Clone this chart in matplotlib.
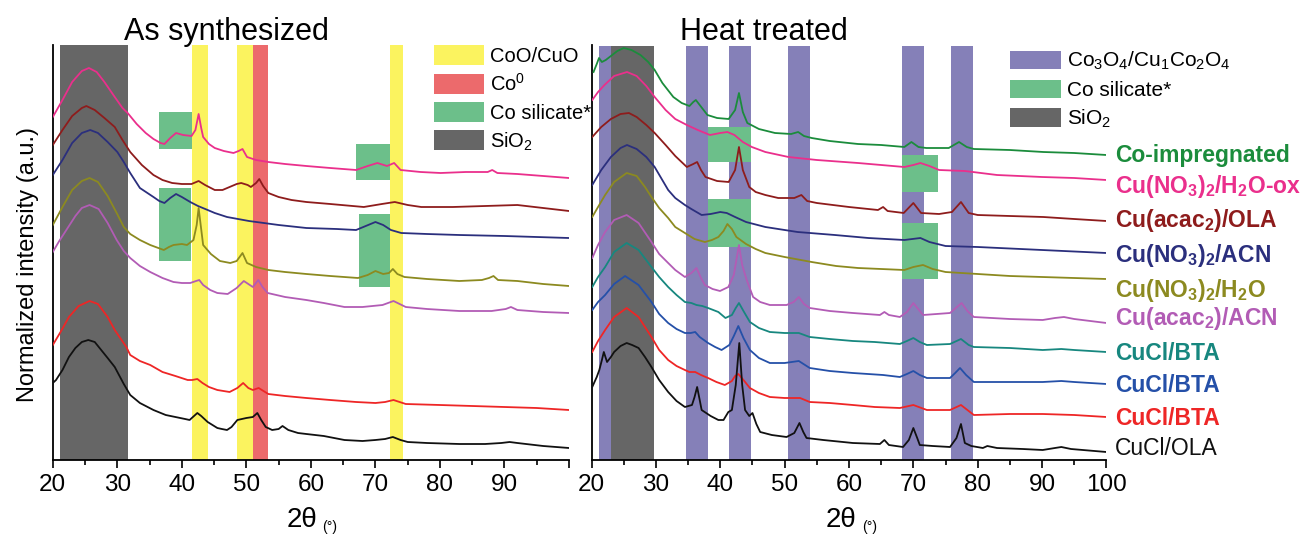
import matplotlib
matplotlib.use("Agg")
import matplotlib.pyplot as plt
from matplotlib.patches import Patch

plt.rcParams['font.family'] = ['Liberation Sans', 'DejaVu Sans']
plt.rcParams['mathtext.default'] = 'regular'

# ---- data: (2theta, normalized intensity + offset) ----
# as synthesized
as_pink = [(20.0, 343), (21.5, 360), (23, 378), (24.5, 389), (25.6, 392), (26.8, 388), (28, 378), (29.6, 363),
           (30.8, 352), (31.6, 347), (33, 336), (34.4, 327), (35.6, 321), (36.7, 317), (37.3, 316), (38.2, 322),
           (39.1, 327), (40.2, 325), (41.5, 324), (42.1, 330), (42.6, 346), (43.0, 332), (43.3, 323), (44.2, 316),
           (45.1, 312), (46.5, 309), (48.0, 307), (48.8, 309), (49.4, 311), (50.1, 303), (51.5, 300), (53.4, 298),
           (56, 296), (59.3, 294), (63, 292), (67.0, 290), (68.8, 294), (70.3, 297), (71.8, 294), (72.9, 297),
           (73.9, 290), (77, 288), (80.1, 287), (84, 288), (87.4, 288), (88.1, 290), (88.9, 287), (92, 286),
           (96, 284), (100, 282)]
as_darkred = [(20, 315), (21.5, 330), (23, 344), (24.5, 352), (25.2, 354), (26.5, 350), (28, 342), (29.6, 333),
              (30.8, 320), (32, 308), (33.8, 295), (35.6, 285), (37, 280), (38.5, 277), (40, 276), (41.5, 276),
              (42.6, 279), (43.6, 275), (45.1, 270), (46.3, 270), (47.4, 273), (48.5, 276), (49.2, 277),
              (50.2, 275), (50.7, 273), (51.5, 277), (52.0, 281), (52.6, 274), (53.4, 267), (55, 263), (57, 260),
              (59.3, 258), (63, 256), (68.2, 253), (71, 256), (73, 258), (75, 255), (77.1, 253), (82, 253),
              (87, 254), (92, 255), (96, 252), (100, 249)]
as_navy = [(20, 285), (21.5, 300), (23, 317), (24.5, 327), (25.8, 330), (27, 327), (28.5, 318), (30, 308),
           (31, 298), (32, 287), (33.5, 272), (35.6, 263), (36.5, 259), (37.3, 257), (38.2, 262), (39.1, 266),
           (40, 263), (41.3, 258), (42.5, 254), (44, 250), (45.1, 247), (47, 243), (50.4, 239), (55, 235),
           (59.3, 232), (64, 231), (67, 230), (68.5, 234), (70, 238), (71.2, 235), (72.4, 230), (74, 227),
           (78, 226), (83, 225), (90, 224), (95, 223), (100, 222)]
as_olive = [(20, 235), (21.5, 253), (23, 270), (24.5, 279), (25.7, 282), (27, 278), (28.5, 264), (29.9, 247),
            (31, 233), (32, 226), (33.5, 220), (35.1, 215), (37.2, 210), (38, 213), (38.7, 215), (40, 216),
            (40.8, 215), (41.8, 220), (42.3, 235), (42.6, 252), (42.9, 236), (43.3, 215), (44.5, 206), (45.9, 199),
            (47.5, 197), (48.5, 199), (49.4, 207), (50.1, 197), (51.5, 193), (53.4, 190), (56, 188), (59.3, 186),
            (63, 184), (67.3, 182), (68.8, 185), (70, 189), (71.2, 186), (72.1, 187), (72.7, 191), (73.4, 186),
            (74.5, 183), (78, 181), (83, 179), (86.5, 180), (87.6, 182), (88.3, 184), (89, 180), (92, 179),
            (96, 176), (100, 174)]
as_orchid = [(20, 208), (21, 219), (22.1, 230), (23.5, 244), (24.5, 252), (25.7, 255), (27.1, 251), (28.5, 237),
             (29.9, 220), (31, 209), (32, 202), (33.5, 194), (35.1, 188), (37, 182), (38.7, 178), (40, 177),
             (41.3, 177), (42.2, 179), (42.7, 180), (43.3, 175), (44.4, 170), (45.5, 167), (47.1, 166),
             (48.5, 172), (49.6, 179), (50.3, 176), (51, 173), (51.85, 180), (52.5, 173), (53.3, 167), (56, 163),
             (59.3, 160), (62, 157), (65.2, 153), (68, 153), (71.1, 155), (72.8, 159), (74.7, 153), (78, 151),
             (83, 149), (88, 149), (90.2, 151), (91, 153), (92, 150), (96, 148), (100, 147)]
as_red = [(20, 115), (21.2, 128), (22.5, 143), (24, 154), (25.7, 159), (27, 156), (28.5, 143), (29.6, 130),
          (31.4, 113), (32, 105), (33.5, 99), (35.1, 95), (37, 88), (39, 84), (40.9, 80), (41.6, 80), (42.4, 81),
          (43.2, 77), (44.2, 73), (45.5, 70), (47.4, 68), (48.6, 72), (49.5, 77), (50.3, 72), (51, 70),
          (51.9, 72), (53.4, 66), (56, 64), (59.3, 62), (63, 60), (67, 58), (70, 57), (71.5, 58), (72.8, 60),
          (74.7, 56), (80, 55), (85, 54), (90, 53), (95, 52), (100, 50)]
as_black = [(20, 77), (20.5, 80), (21.5, 90), (22.5, 103), (23.5, 112), (24.5, 118), (25.5, 120), (26.5, 118),
            (27.5, 110), (28.5, 102), (29.6, 93), (31, 76), (32, 65), (33.5, 57), (35.6, 50), (37.5, 45), (39, 43),
            (40.5, 41), (41.2, 40), (42.4, 47), (43, 44), (44, 38), (45.5, 32), (46.2, 31), (47, 30), (47.7, 33),
            (48.6, 40), (50, 42), (51, 43), (51.7, 47), (52.3, 40), (53, 33), (54, 30), (55, 31), (55.6, 34),
            (56.5, 30), (58, 27), (59.3, 26), (62, 24), (65.2, 20), (68, 19), (70, 20), (71.5, 21), (72.7, 23),
            (73.9, 20), (75, 18), (78, 17), (83, 16), (87, 16), (89.5, 17), (90.8, 18), (92, 17), (96, 14),
            (100, 12)]

# heat treated
ht_green = [(20.3, 388), (20.8, 396), (21.15, 402), (21.6, 398), (22.2, 400), (23, 404), (24, 409), (25, 412),
            (26.2, 410), (27.6, 405), (28.8, 398), (29.8, 390), (31, 377), (32.7, 363), (34, 357), (35.2, 354),
            (35.8, 358), (36.2, 360), (36.8, 355), (38, 345), (39.5, 342), (41.3, 341), (42.3, 350), (42.9, 367),
            (43.5, 348), (44.2, 337), (46, 331), (48.5, 327), (51, 326), (52.1, 328), (53, 324), (54.2, 322),
            (57, 319), (61.4, 316), (65, 315), (68.6, 313), (69.7, 318), (70.8, 313), (72, 312), (75.5, 312),
            (77.1, 318), (78.3, 313), (79.4, 311), (85, 310), (90.2, 308), (95, 307), (100, 305)]
ht_pink = [(20.1, 360), (21, 368), (22, 375), (23.5, 384), (25.5, 388), (27, 384), (28.5, 374), (29.8, 363),
           (31.5, 350), (33, 341), (34.8, 335), (36.5, 330), (38.4, 325), (40, 327), (41.1, 328), (42.2, 325),
           (43.5, 318), (44.9, 313), (47, 308), (50.6, 303), (55, 300), (61.4, 297), (65, 295), (68.6, 293),
           (70, 295), (71.1, 297), (72.5, 294), (74, 290), (78, 289), (83, 285), (90, 283), (95, 282), (100, 280)]
ht_darkred = [(20.1, 323), (21.5, 333), (23, 341), (24.5, 346), (25.8, 347), (27, 343), (28.5, 335), (29.8, 327),
              (31.5, 315), (33, 304), (34.8, 293), (35.8, 296), (36.4, 298), (37.0, 290), (37.7, 283), (39.5, 279),
              (41.3, 278), (42.3, 290), (42.9, 313), (43.5, 290), (44.5, 273), (45.5, 268), (47, 265), (49, 262),
              (51.5, 262), (52.6, 265), (53.5, 259), (55, 257), (60, 253), (64.5, 250), (65.3, 253), (66, 249),
              (68.5, 247), (70, 257), (71.2, 247), (74, 246), (76, 248), (77.4, 258), (78.6, 247), (80, 245),
              (85, 244), (90.2, 243), (95, 241), (100, 239)]
ht_navy = [(20.1, 275), (21.5, 290), (23, 303), (24.5, 312), (25.5, 315), (27, 311), (28.5, 303), (29.8, 293),
           (31.9, 270), (33, 262), (34.5, 255), (35.5, 251), (37.1, 245), (38.5, 246), (40, 248), (41, 247),
           (42.3, 243), (44, 238), (47, 233), (52, 228), (57.8, 225), (63, 222), (68.6, 220), (71.1, 222),
           (72.5, 218), (75, 214), (80, 213), (90, 210), (100, 207)]
ht_olive = [(20.1, 243), (21, 253), (22.1, 265), (23.5, 278), (25.45, 287), (27, 284), (28.3, 273), (29.3, 263),
            (30.5, 252), (31.9, 242), (33, 233), (34.5, 227), (36, 221), (37.6, 218), (38.7, 220), (39.7, 223),
            (40.5, 229), (41.1, 236), (41.8, 231), (42.5, 223), (44, 216), (45.5, 211), (47, 207), (50, 203),
            (54.2, 198), (58, 194), (61.4, 192), (65, 191), (68.6, 190), (70, 193), (71.5, 195), (73, 191),
            (75, 188), (80, 186), (85, 184), (90, 183), (95, 182), (100, 181)]
ht_orchid = [(20.1, 202), (21, 215), (22.1, 228), (23.5, 240), (25.45, 245), (27.3, 237), (29.3, 218), (30.5, 206),
             (31.9, 197), (33, 190), (34.5, 183), (35.5, 187), (36.3, 192), (37, 182), (37.6, 175), (38.8, 171),
             (39.95, 169), (41.25, 173), (42.1, 185), (42.5, 200), (42.9, 215), (43.4, 195), (44.1, 180),
             (45.1, 163), (46.2, 158), (47.7, 155), (50.3, 155), (51.4, 158), (52.2, 163), (53.0, 156), (53.9, 152),
             (57, 149), (60.6, 147), (64.8, 145), (65.5, 148), (66.2, 145), (67.9, 143), (69, 148), (70, 157),
             (71, 149), (71.5, 145), (75.7, 147), (76.6, 152), (77.5, 157), (78.4, 149), (79.4, 143), (85, 141),
             (90.1, 140), (92, 142), (93.4, 143), (95, 141), (100, 137)]
ht_teal = [(20.1, 173), (21, 183), (22.1, 193), (23.5, 208), (25.45, 217), (27.3, 210), (29.3, 193), (30.5, 183),
           (31.9, 173), (33.2, 165), (34.5, 158), (35.5, 157), (36.3, 155), (37.2, 154), (38.1, 152), (39.7, 148),
           (40.8, 142), (41.8, 145), (42.4, 152), (42.9, 157), (43.6, 149), (44.6, 138), (46, 132), (47.7, 128),
           (50, 127), (52.2, 127), (53.9, 123), (57, 121), (60.6, 119), (64, 118), (67.9, 116), (69, 119),
           (70, 122), (71, 118), (72.1, 115), (75.7, 116), (77.4, 121), (78.6, 115), (79.4, 113), (85, 112),
           (90.1, 110), (93, 111), (95, 110), (100, 108)]
ht_blue = [(20.1, 150), (21, 158), (22.1, 165), (23.5, 176), (25.2, 184), (27.3, 175), (29.3, 158), (30.5, 146),
           (31.9, 137), (33.2, 131), (34.5, 127), (35.4, 127), (36.1, 128), (36.8, 123), (38.1, 117), (39.2, 113),
           (40.2, 110), (41.4, 115), (42.1, 124), (42.8, 134), (43.6, 122), (44.6, 110), (46, 102), (47.7, 97),
           (50, 97), (52.2, 99), (53.9, 92), (57, 89), (60.6, 87), (65.3, 85), (67.9, 83), (69, 86), (70, 89),
           (71, 85), (72.1, 82), (75.7, 82), (76.5, 87), (77.25, 92), (78.2, 85), (79.4, 78), (85, 78),
           (90.1, 78), (93, 79), (95, 78), (100, 76)]
ht_red = [(20.1, 108), (21, 119), (22.1, 130), (23.5, 143), (25.45, 152), (27.3, 143), (29.3, 123), (30.5, 110),
          (31.9, 100), (33.2, 94), (34.5, 90), (35.2, 88), (36.1, 88), (37, 85), (38.1, 82), (39.4, 78),
          (40.7, 75), (41.8, 79), (42.3, 84), (42.8, 86), (43.6, 80), (44.6, 72), (46, 67), (47.7, 63), (50, 62),
          (52.4, 62), (53.9, 58), (57, 57), (60.6, 55), (64, 53), (67.9, 52), (70, 55), (72.1, 50), (75.7, 50),
          (77.4, 55), (79.4, 45), (85, 46), (90.1, 46), (95, 45), (100, 43)]
ht_black = [(20.1, 73), (20.8, 83), (21.2, 90), (21.6, 100), (21.9, 108), (22.4, 98), (23, 103), (23.5, 108),
            (24.5, 114), (25.45, 117), (26.3, 115), (27.3, 112), (28.3, 103), (29.3, 93), (30.5, 80), (31.9, 68),
            (33.2, 59), (34.5, 53), (35.6, 55), (36.0, 63), (36.4, 73), (36.8, 60), (37.1, 50), (38.5, 44),
            (39.7, 40), (40.5, 40), (41.25, 48), (41.8, 50), (42.4, 75), (42.95, 117), (43.4, 75), (43.85, 50),
            (44.5, 44), (45.0, 47), (45.6, 36), (46.2, 28), (48, 25), (50.3, 23), (51.5, 27), (52.3, 37),
            (52.9, 28), (53.4, 22), (56, 20), (60.6, 17), (64.8, 16), (65.5, 20), (66.2, 15), (68.4, 13),
            (69.3, 20), (70, 32), (70.6, 22), (71, 15), (73, 14), (75.7, 13), (76.7, 22), (77.4, 36), (78.0, 17),
            (79, 14), (80.8, 12), (81.5, 14), (83, 12), (87, 11), (90.1, 10), (92, 12), (93, 13), (94.5, 11),
            (100, 8)]

as_curves = [as_pink, as_darkred, as_navy, as_olive, as_orchid, as_red, as_black]
ht_curves = [ht_green, ht_pink, ht_darkred, ht_navy, ht_olive, ht_orchid, ht_teal, ht_blue, ht_red, ht_black]
ht_names = ['Co-impregnated', 'Cu(NO$_3$)$_2$/H$_2$O-ox', 'Cu(acac$_2$)/OLA', 'Cu(NO$_3$)$_2$/ACN',
            'Cu(NO$_3$)$_2$/H$_2$O', 'Cu(acac$_2$)/ACN', 'CuCl/BTA', 'CuCl/BTA', 'CuCl/BTA', 'CuCl/OLA']

# reference bands (2theta ranges)
sio2_as = (21.1, 31.6)
cuo_as = [(41.6, 44.0), (48.6, 51.0), (72.3, 74.2)]
co0_as = [(51.0, 53.4)]
silicate_as = [(36.5, 41.5, 311, 348), (67.0, 72.3, 280, 316), (36.5, 41.4, 199, 272), (67.4, 72.3, 173, 246)]
sio2_ht = (23.0, 29.7)
spinel_ht = [(21.15, 23.0), (34.7, 38.1), (41.4, 44.8), (50.5, 53.9), (68.3, 71.7), (75.85, 79.3)]
silicate_ht = [(38.05, 44.8, 298, 333), (68.3, 73.8, 268, 305), (38.05, 44.8, 213, 261), (68.3, 73.8, 181, 237)]

# ---- style ----
as_colors = ['#ea2f8c', '#8e1c1c', '#2b2f7d', '#8c8a20', '#b25cb5', '#ee2626', '#111111']
ht_colors = ['#1b8c3c', '#ea2f8c', '#8e1c1c', '#2b2f7d', '#8c8a20', '#b25cb5', '#17877f', '#2550a8',
             '#ee2626', '#111111']
label_y = [298, 267, 233, 198, 163, 135, 100, 68, 35, 5]
c_gray, c_yel, c_redb, c_green, c_purp = '#666666', '#fbf35f', '#ec6a6c', '#6cbf8a', '#8580b8'

W, H = 1306, 534
fig = plt.figure(figsize=(W / 100, H / 100), dpi=100)
ax_l = fig.add_axes([52.8 / W, 74 / H, (569 - 52.8) / W, 415 / H])
ax_r = fig.add_axes([591.6 / W, 74 / H, 514.8 / W, 415 / H])

for ax in (ax_l, ax_r):
    ax.set_xlim(20, 100)
    ax.set_ylim(0, 415)
    ax.spines['top'].set_visible(False)
    ax.spines['right'].set_visible(False)
    ax.spines['left'].set_linewidth(1.3)
    ax.spines['bottom'].set_linewidth(1.3)
    ax.tick_params(axis='y', left=False, labelleft=False)
    ax.set_xticks(range(20, 101, 10))
    ax.set_xticks(range(25, 100, 10), minor=True)
    ax.tick_params(axis='x', which='major', length=6, width=1.2, labelsize=17.5, pad=4)
    ax.tick_params(axis='x', which='minor', length=3.5, width=1.2)

ax_l.set_xticklabels([str(v) for v in range(20, 100, 10)] + [''])

# left panel bands
ax_l.axvspan(*sio2_as, color=c_gray, lw=0, zorder=0)
for lo, hi in cuo_as:
    ax_l.axvspan(lo, hi, color=c_yel, lw=0, zorder=0)
for lo, hi in co0_as:
    ax_l.axvspan(lo, hi, color=c_redb, lw=0, zorder=0)
for x0, x1, y0, y1 in silicate_as:
    ax_l.fill_between([x0, x1], y0, y1, color=c_green, lw=0, zorder=1)

# right panel bands
for lo, hi in spinel_ht:
    ax_r.axvspan(lo, hi, ymax=414 / 415, color=c_purp, lw=0, zorder=0)
ax_r.axvspan(*sio2_ht, ymax=414 / 415, color=c_gray, lw=0, zorder=0.5)
for x0, x1, y0, y1 in silicate_ht:
    ax_r.fill_between([x0, x1], y0, y1, color=c_green, lw=0, zorder=1)

for cur, col in zip(as_curves, as_colors):
    x, y = zip(*cur)
    ax_l.plot(x, y, color=col, lw=1.3, zorder=3)
for cur, col in zip(ht_curves, ht_colors):
    x, y = zip(*cur)
    ax_r.plot(x, y, color=col, lw=1.3, zorder=3)

for name, col, yy in zip(ht_names, ht_colors, label_y):
    bold = name != 'CuCl/OLA'
    ax_r.text(101.3, yy, name, color=col, fontsize=16.5, fontweight='bold' if bold else 'normal',
              ha='left', va='baseline', clip_on=False)

# legends
leg_l = ax_l.legend(handles=[Patch(facecolor=c_yel, edgecolor='none', label='CoO/CuO'),
                             Patch(facecolor=c_redb, edgecolor='none', label='Co$^0$'),
                             Patch(facecolor=c_green, edgecolor='none', label='Co silicate*'),
                             Patch(facecolor=c_gray, edgecolor='none', label='SiO$_2$')],
                    loc='upper left', bbox_to_anchor=(434 / W, 1 - 45 / H), bbox_transform=fig.transFigure,
                    frameon=False, fontsize=14.5, handlelength=2.5, handleheight=1.15, handletextpad=0.3,
                    labelspacing=0.36, borderpad=0, borderaxespad=0)
leg_r = ax_r.legend(handles=[Patch(facecolor=c_purp, edgecolor='none', label='Co$_3$O$_4$/Cu$_1$Co$_2$O$_4$'),
                             Patch(facecolor=c_green, edgecolor='none', label='Co silicate*'),
                             Patch(facecolor=c_gray, edgecolor='none', label='SiO$_2$')],
                    loc='upper left', bbox_to_anchor=(1010 / W, 1 - 50 / H), bbox_transform=fig.transFigure,
                    frameon=False, fontsize=15, handlelength=2.45, handleheight=1.0, handletextpad=0.3,
                    labelspacing=0.35, borderpad=0, borderaxespad=0)

# titles and axis labels
fig.text(226 / W, 1 - 40 / H, 'As synthesized', ha='center', va='baseline', fontsize=22)
fig.text(764 / W, 1 - 40 / H, 'Heat treated', ha='center', va='baseline', fontsize=22)
fig.text(28 / W, 1 - 265 / H, 'Normalized intensity (a.u.)', rotation=90, ha='center', va='center', fontsize=17)
for cx in (301.5, 841):
    fig.text(cx / W, 1 - 527 / H, '2θ', ha='center', va='baseline', fontsize=20)
    fig.text((cx + 21) / W, 1 - 531 / H, '(°)', ha='left', va='baseline', fontsize=10)

fig.savefig('out.png', dpi=100)
